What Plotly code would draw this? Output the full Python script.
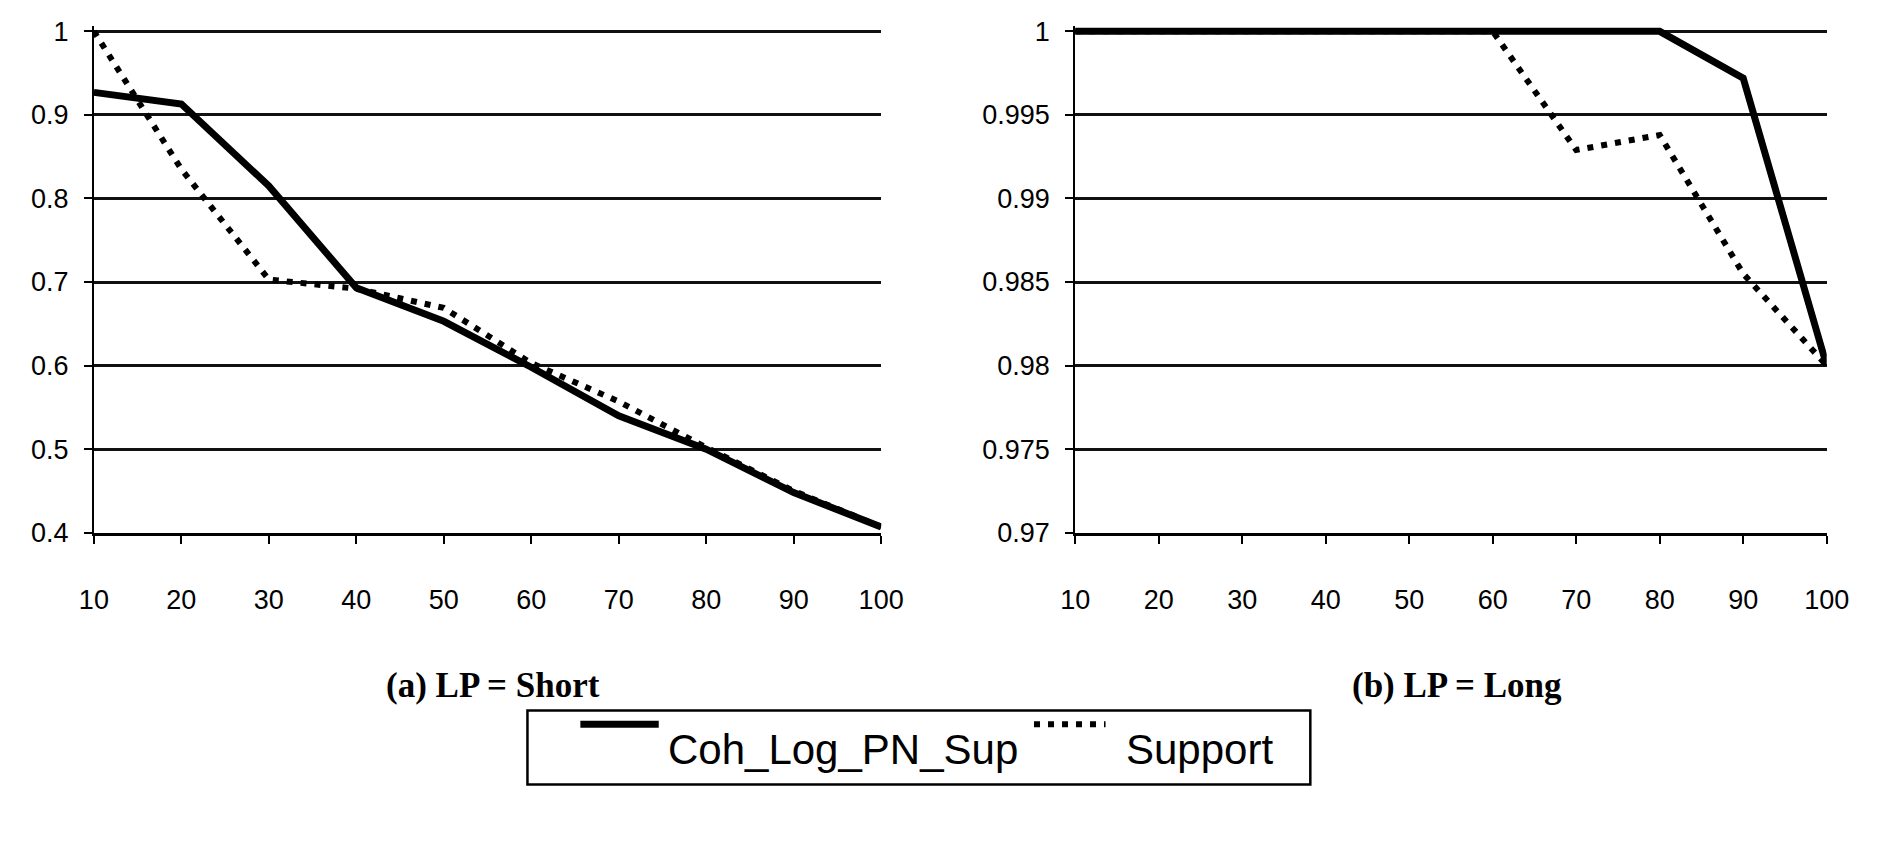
import plotly.graph_objects as go

# ---------------- data ----------------
x_vals = [10, 20, 30, 40, 50, 60, 70, 80, 90, 100]
x_ticktext = ["10", "20", "30", "40", "50", "60", "70", "80", "90", "100"]

short_coh = [0.927, 0.913, 0.815, 0.693, 0.653, 0.598, 0.540, 0.500, 0.448, 0.407]
short_support = [1.000, 0.835, 0.703, 0.692, 0.669, 0.603, 0.557, 0.502, 0.450, 0.407]

long_coh = [1.000, 1.000, 1.000, 1.000, 1.000, 1.000, 1.000, 1.000, 0.9972, 0.9800]
long_support = [1.000, 1.000, 1.000, 1.000, 1.000, 1.000, 0.9929, 0.9938, 0.9855, 0.9800]

left_tickvals = [0.4, 0.5, 0.6, 0.7, 0.8, 0.9, 1.0]
left_ticktext = ["0.4", "0.5", "0.6", "0.7", "0.8", "0.9", "1"]
right_tickvals = [0.97, 0.975, 0.98, 0.985, 0.99, 0.995, 1.0]
right_ticktext = ["0.97", "0.975", "0.98", "0.985", "0.99", "0.995", "1"]

series_names = ["Coh_Log_PN_Sup", "Support"]
panel_titles = ["(a) LP = Short", "(b) LP = Long"]

# ---------------- geometry ----------------
W, H = 1883, 847
def px(x):
    return x / W
def py(y):
    return 1 - y / H

top_px, bot_px, pad_px = 23, 539, 6
step_px = (bot_px - top_px) / 6.0
left_range = [0.4, 1.0 + 0.1 * pad_px / step_px]
right_range = [0.97, 1.0 + 0.005 * pad_px / step_px]
y_domain = [py(bot_px), py(top_px - pad_px)]

solid_style = dict(color="black", width=7)
dot_style = dict(color="black", width=6, dash="6px,8px")

fig = go.Figure()

# left panel
fig.add_trace(go.Scatter(x=x_vals, y=short_support, mode="lines", line=dot_style,
                         name=series_names[1], showlegend=False, xaxis="x", yaxis="y"))
fig.add_trace(go.Scatter(x=x_vals, y=short_coh, mode="lines", line=solid_style,
                         name=series_names[0], showlegend=False, xaxis="x", yaxis="y"))
# right panel
fig.add_trace(go.Scatter(x=x_vals, y=long_support, mode="lines", line=dot_style,
                         name=series_names[1], showlegend=False, xaxis="x2", yaxis="y2"))
fig.add_trace(go.Scatter(x=x_vals, y=long_coh, mode="lines", line=solid_style,
                         name=series_names[0], showlegend=False, xaxis="x2", yaxis="y2"))

tick_font = dict(family="Liberation Sans, Arial, sans-serif", size=27, color="black")

xaxis_common = dict(
    range=[10, 100], tickmode="array", tickvals=x_vals, ticktext=x_ticktext,
    showgrid=False, zeroline=False, showline=True, linecolor="black", linewidth=3,
    ticks="outside", ticklen=8, tickwidth=2, tickcolor="black",
    tickfont=tick_font, ticklabelstandoff=33,
)
yaxis_common = dict(
    domain=y_domain, tickmode="array",
    showgrid=True, gridcolor="#111111", gridwidth=3, zeroline=False,
    showline=True, linecolor="black", linewidth=2,
    ticks="outside", ticklen=8, tickwidth=2, tickcolor="black",
    tickfont=tick_font, ticklabelstandoff=10,
)

fig.update_layout(
    width=W, height=H,
    margin=dict(l=0, r=0, t=0, b=0),
    paper_bgcolor="white", plot_bgcolor="white",
    showlegend=False,
    xaxis=dict(domain=[px(80.5), px(884)], anchor="y", **xaxis_common),
    yaxis=dict(anchor="x", range=left_range, tickvals=left_tickvals,
               ticktext=left_ticktext, **yaxis_common),
    xaxis2=dict(domain=[px(1082), px(1849)], anchor="y2", **xaxis_common),
    yaxis2=dict(anchor="x2", range=right_range, tickvals=right_tickvals,
                ticktext=right_ticktext, **yaxis_common),
)

title_font = dict(family="Liberation Serif, Times New Roman, serif", size=35, color="black")
fig.add_annotation(x=px(488), y=py(696), xref="paper", yref="paper", text="<b>%s</b>" % panel_titles[0],
                   showarrow=False, font=title_font, xanchor="center", yanchor="middle")
fig.add_annotation(x=px(1472), y=py(696), xref="paper", yref="paper", text="<b>%s</b>" % panel_titles[1],
                   showarrow=False, font=title_font, xanchor="center", yanchor="middle")

# legend box (drawn as layout decoration)
leg_font = dict(family="Liberation Sans, Arial, sans-serif", size=42, color="black")
fig.add_shape(type="rect", xref="paper", yref="paper", x0=px(523), x1=px(1322), y0=py(798), y1=py(722),
              line=dict(color="black", width=2.5), fillcolor="white", layer="above")
fig.add_shape(type="line", xref="paper", yref="paper", x0=px(577), x1=px(657), y0=py(736), y1=py(736),
              line=dict(color="black", width=7))
fig.add_shape(type="line", xref="paper", yref="paper", x0=px(1040), x1=px(1113), y0=py(736), y1=py(736),
              line=dict(color="black", width=6, dash="6px,8px"))
fig.add_annotation(x=px(664), y=py(762), xref="paper", yref="paper", text=series_names[0],
                   showarrow=False, font=leg_font, xanchor="left", yanchor="middle")
fig.add_annotation(x=px(1132), y=py(762), xref="paper", yref="paper", text=series_names[1],
                   showarrow=False, font=leg_font, xanchor="left", yanchor="middle")

fig.write_html("out.html")
